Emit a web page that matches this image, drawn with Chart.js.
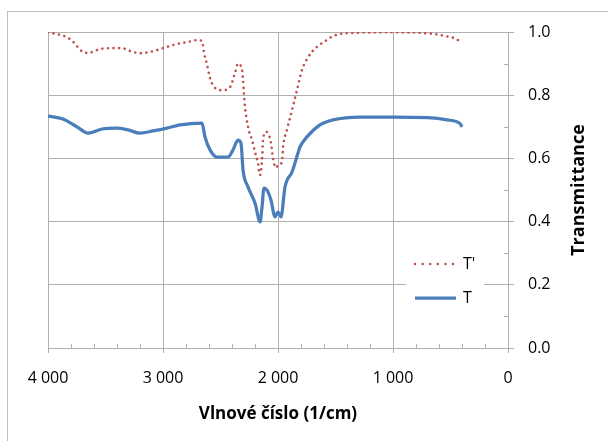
<!DOCTYPE html>
<html>
<head>
<meta charset="utf-8">
<script src="https://cdn.jsdelivr.net/npm/chart.js@4.4.0/dist/chart.umd.min.js"></script>
<style>
    html, body { margin: 0; padding: 0; background: #fff; }
    #wrap { position: relative; width: 608px; height: 441px; overflow: hidden; }
    #frame { position: absolute; left: 7px; top: 11px; width: 700px; height: 500px;
             border-left: 1.5px solid #bfbfbf; border-top: 1.5px solid #bfbfbf; }
    #spectrum { position: absolute; left: 0; top: 0; }
</style>
</head>
<body>
<div id="wrap">
    <div id="frame"></div>
    <canvas id="spectrum" width="608" height="441"></canvas>
</div>
<script>
// T' (dotted red)
const wavenumberTp = [4000, 3809, 3696, 3652, 3548, 3443, 3357, 3287, 3200, 3113, 3000, 2878, 2791, 2704, 2661,
    2643, 2617, 2591, 2548, 2487, 2417, 2374, 2348, 2313, 2287, 2261, 2226, 2200, 2174, 2156, 2139, 2130,
    2104, 2087, 2061, 2043, 2017, 2000, 1965, 1956, 1922, 1878, 1835, 1791, 1739, 1661, 1574, 1522, 1374,
    1000, 800, 650, 530, 450, 400];
const valuesTp = [1.0, 0.978, 0.937, 0.934, 0.946, 0.949, 0.949, 0.94, 0.933, 0.937, 0.949, 0.962, 0.968, 0.974, 0.972,
    0.934, 0.896, 0.854, 0.823, 0.816, 0.826, 0.87, 0.9, 0.88, 0.763, 0.70, 0.658, 0.62, 0.585, 0.547, 0.595, 0.658,
    0.684, 0.68, 0.649, 0.60, 0.57, 0.579, 0.589, 0.636, 0.69, 0.753, 0.816, 0.88, 0.92, 0.953, 0.975, 0.987, 0.997,
    0.999, 0.998, 0.994, 0.986, 0.978, 0.963];

// T (solid blue)
const wavenumberT = [4000, 3870, 3748, 3652, 3530, 3400, 3304, 3200, 3087, 2965, 2852, 2661,
    2635, 2591, 2530, 2435, 2391, 2348, 2322, 2304, 2261, 2200, 2156, 2139, 2122, 2096, 2061, 2026,
    2000, 1974, 1939, 1878, 1826, 1809, 1748, 1635, 1522, 1287, 1000, 700, 530, 417, 400];
const valuesT = [0.734, 0.725, 0.70, 0.68, 0.693, 0.696, 0.69, 0.68, 0.687, 0.696, 0.706, 0.712,
    0.668, 0.627, 0.604, 0.604, 0.627, 0.658, 0.649, 0.563, 0.51, 0.459, 0.399, 0.446, 0.506, 0.50, 0.468, 0.415,
    0.43, 0.415, 0.51, 0.557, 0.617, 0.636, 0.668, 0.706, 0.722, 0.731, 0.731, 0.729, 0.722, 0.71, 0.70];

const seriesLabels = ["T'", 'T'];
const xTitle = 'Vlnové číslo (1/cm)';
const yTitle = 'Transmittance';
const xMinorStep = 200;
const yMinorStep = 0.1;

const FONT = "'Open Sans', 'DejaVu Sans', sans-serif";
const GRID = '#b0b0b0';

function toPoints(xs, ys) {
    return xs.map((x, i) => ({ x: x, y: ys[i] }));
}

function formatThousands(v) {
    return String(v).replace(/\B(?=(\d{3})+(?!\d))/g, ' ');
}

// small inward ticks between the major ones
const minorTicks = {
    id: 'minorTicks',
    afterDraw(chart) {
        const { ctx, chartArea, scales } = chart;
        const xs = scales.x, ys = scales.y;
        ctx.save();
        ctx.strokeStyle = GRID;
        ctx.lineWidth = 1;
        ctx.beginPath();
        for (let v = xs.min; v <= xs.max; v += xMinorStep) {
            if (v % 1000 === 0) continue;
            const px = Math.round(xs.getPixelForValue(v)) + 0.5;
            ctx.moveTo(px, chartArea.bottom);
            ctx.lineTo(px, chartArea.bottom - 4);
        }
        for (let v = ys.min + yMinorStep; v < ys.max; v += yMinorStep * 2) {
            const py = Math.round(ys.getPixelForValue(v)) + 0.5;
            ctx.moveTo(chartArea.right, py);
            ctx.lineTo(chartArea.right - 4, py);
        }
        ctx.stroke();
        ctx.restore();
    }
};

// y title on the right, reading bottom to top
const rightTitle = {
    id: 'rightTitle',
    afterDraw(chart) {
        const { ctx, chartArea } = chart;
        ctx.save();
        ctx.translate(chartArea.right + 71, (chartArea.top + chartArea.bottom) / 2);
        ctx.rotate(-Math.PI / 2);
        ctx.font = 'bold 18px ' + FONT;
        ctx.fillStyle = '#000';
        ctx.textAlign = 'center';
        ctx.textBaseline = 'middle';
        ctx.fillText(yTitle, 0, 0);
        ctx.restore();
    }
};

// legend inside the plot, lower right
const insideLegend = {
    id: 'insideLegend',
    afterDatasetsDraw(chart) {
        const { ctx, chartArea } = chart;
        const left = chartArea.right - 102;
        const top = chartArea.bottom - 98;
        ctx.save();
        ctx.fillStyle = '#fff';
        ctx.fillRect(left, top, 78, 60);
        chart.data.datasets.forEach((ds, i) => {
            const y = top + 14 + i * 34;
            ctx.strokeStyle = ds.borderColor;
            ctx.lineWidth = ds.borderWidth;
            ctx.lineCap = ds.borderCapStyle || 'butt';
            ctx.setLineDash(ds.borderDash ? [0.01, 7.6] : []);
            ctx.beginPath();
            ctx.moveTo(left + 9, y);
            ctx.lineTo(left + 50, y);
            ctx.stroke();
            ctx.setLineDash([]);
            ctx.fillStyle = '#000';
            ctx.font = '16px ' + FONT;
            ctx.textAlign = 'left';
            ctx.textBaseline = 'middle';
            ctx.fillText(ds.label, left + 57, y);
        });
        ctx.restore();
    }
};

const ctx = document.getElementById('spectrum').getContext('2d');
new Chart(ctx, {
    type: 'line',
    data: {
        datasets: [
            {
                label: seriesLabels[0],
                data: toPoints(wavenumberTp, valuesTp),
                borderColor: '#c0504d',
                borderWidth: 2.6,
                borderDash: [0.01, 5.6],
                borderCapStyle: 'round',
                pointRadius: 0,
                cubicInterpolationMode: 'monotone',
                fill: false
            },
            {
                label: seriesLabels[1],
                data: toPoints(wavenumberT, valuesT),
                borderColor: '#4a7ebb',
                borderWidth: 3.25,
                pointRadius: 0,
                cubicInterpolationMode: 'monotone',
                fill: false
            }
        ]
    },
    options: {
        responsive: false,
        animation: false,
        layout: { padding: { left: 48, top: 32, right: 0, bottom: 0 } },
        plugins: {
            legend: { display: false },
            tooltip: { enabled: false }
        },
        scales: {
            x: {
                type: 'linear',
                reverse: true,
                min: 0,
                max: 4000,
                afterFit: function(scale) { scale.height = 93; },
                ticks: {
                    stepSize: 1000,
                    padding: 16,
                    maxRotation: 0,
                    color: '#000',
                    font: { family: FONT, size: 16 },
                    callback: function(value) { return formatThousands(value); }
                },
                grid: { color: GRID, lineWidth: 1, tickLength: 5, tickColor: GRID },
                border: { color: GRID, width: 1 },
                title: {
                    display: true,
                    text: xTitle,
                    color: '#000',
                    font: { family: FONT, size: 17, weight: 'bold' },
                    padding: { top: 0, bottom: 17 }
                }
            },
            y: {
                position: 'right',
                min: 0,
                max: 1,
                afterFit: function(scale) { scale.width = 100; },
                ticks: {
                    stepSize: 0.2,
                    padding: 14,
                    color: '#000',
                    font: { family: FONT, size: 16 },
                    callback: function(value) { return value.toFixed(1); }
                },
                grid: { color: GRID, lineWidth: 1, tickLength: 6, tickColor: GRID },
                border: { color: GRID, width: 1 }
            }
        }
    },
    plugins: [minorTicks, rightTitle, insideLegend]
});
</script>
</body>
</html>
